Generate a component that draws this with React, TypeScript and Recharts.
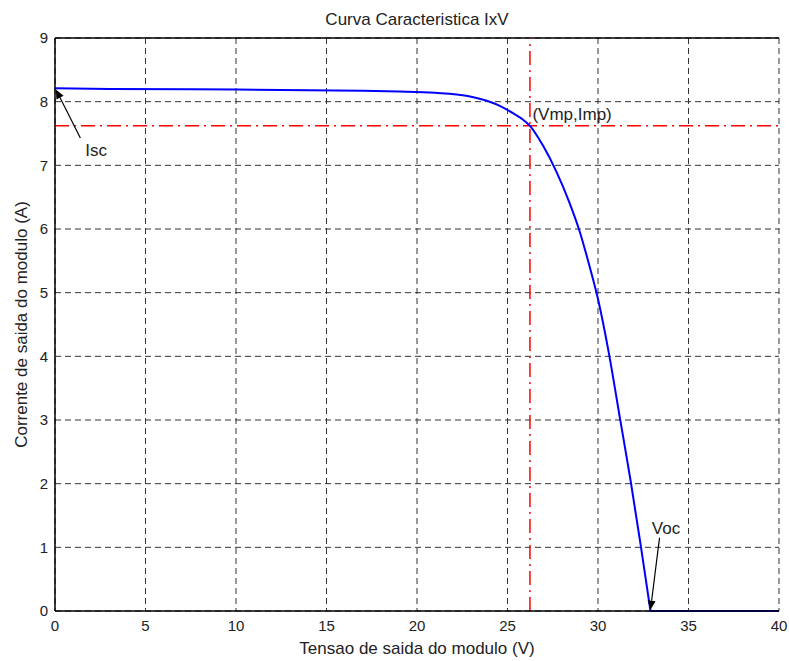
import React from "react";
import {
  LineChart,
  Line,
  XAxis,
  YAxis,
  CartesianGrid,
  ReferenceLine,
  ReferenceDot,
} from "recharts";

// tensao (V) x corrente (A)
const voltage = [0, 3, 10, 17, 19, 21, 22.8, 23.9, 24.6, 25.3, 25.8, 26.24, 27.0, 27.7, 28.4, 29.0, 29.5, 30.0, 30.6, 31.2, 31.8, 32.35, 32.9];
const current = [8.21, 8.2, 8.19, 8.17, 8.16, 8.14, 8.09, 8.01, 7.93, 7.82, 7.73, 7.62, 7.29, 6.9, 6.43, 5.95, 5.45, 4.9, 4.05, 3.05, 2.05, 1.05, 0];
// depois de Voc a corrente fica em zero
const tailVoltage = [32.9, 40];
const tailCurrent = [0, 0];

const xTicks = [0, 5, 10, 15, 20, 25, 30, 35, 40];
const yTicks = [0, 1, 2, 3, 4, 5, 6, 7, 8, 9];

const vmp = 26.24;
const imp = 7.62;

// anotacoes: [x, y]
const iscText = [1.4, 7.24];
const iscArrow = [[1.4, 7.43], [0.05, 8.19]];
const vocText = [32.7, 1.3];
const vocArrow = [[33.4, 1.15], [32.9, 0.02]];
const mppText = [26.1, 7.8];

const data = voltage.map((v, i) => ({ v, i: current[i] }));
const tail = tailVoltage.map((v, i) => ({ v, i: tailCurrent[i] }));

const Arrow = (props: any) => {
  const { x1, y1, x2, y2 } = props;
  const ang = Math.atan2(y2 - y1, x2 - x1);
  const len = 9;
  const w = 4;
  const bx = x2 - len * Math.cos(ang);
  const by = y2 - len * Math.sin(ang);
  const px = -Math.sin(ang) * w;
  const py = Math.cos(ang) * w;
  return (
    <g>
      <line x1={x1} y1={y1} x2={bx} y2={by} stroke="#000" strokeWidth={1.2} />
      <polygon points={`${x2},${y2} ${bx + px},${by + py} ${bx - px},${by - py}`} fill="#000" />
    </g>
  );
};

export default function App() {
  return (
    <div style={{ position: "absolute", left: 0, top: 0, fontFamily: "'Liberation Sans', Arial, sans-serif" }}>
      <LineChart
        width={789}
        height={661}
        margin={{ top: 38, right: 10, bottom: 10, left: 20 }}
      >
        <CartesianGrid stroke="#333" strokeDasharray="6 4" vertical horizontal />
        <XAxis
          dataKey="v"
          type="number"
          domain={[0, 40]}
          ticks={xTicks}
          tickSize={0}
          tickMargin={9}
          height={40}
          allowDuplicatedCategory={false}
          axisLine={{ stroke: "#000", strokeWidth: 1.5 }}
          tick={{ fill: "#222", fontSize: 15 }}
          label={{ value: "Tensao de saida do modulo (V)", position: "insideBottom", offset: -3, fill: "#222", fontSize: 17 }}
        />
        <YAxis
          type="number"
          domain={[0, 9]}
          ticks={yTicks}
          tickSize={0}
          tickMargin={7}
          width={35}
          axisLine={{ stroke: "#000", strokeWidth: 1.5 }}
          tick={{ fill: "#222", fontSize: 15 }}
          label={{ value: "Corrente de saida do modulo (A)", angle: -90, position: "insideLeft", offset: 1, fill: "#222", fontSize: 17, style: { textAnchor: "middle" } }}
        />
        <YAxis
          yAxisId="right"
          orientation="right"
          type="number"
          domain={[0, 9]}
          ticks={yTicks}
          tick={false}
          tickLine={false}
          width={0}
          axisLine={{ stroke: "#000", strokeWidth: 1.5 }}
        />
        <ReferenceLine
          y={9}
          stroke="#000"
          strokeWidth={1.5}
          label={{ value: "Curva Caracteristica IxV", position: "top", offset: 13, fill: "#222", fontSize: 17 }}
        />
        <ReferenceLine x={vmp} stroke="#ff0000" strokeWidth={1.5} strokeDasharray="14 5 2 5" />
        <ReferenceLine y={imp} stroke="#ff0000" strokeWidth={1.5} strokeDasharray="14 5 2 5" />
        <Line
          data={data}
          type="monotone"
          dataKey="i"
          stroke="#0000ff"
          strokeWidth={2}
          dot={false}
          isAnimationActive={false}
        />
        <Line
          data={tail}
          type="linear"
          dataKey="i"
          stroke="#0000ff"
          strokeWidth={2}
          dot={false}
          isAnimationActive={false}
        />
        <ReferenceLine
          segment={[{ x: iscArrow[0][0], y: iscArrow[0][1] }, { x: iscArrow[1][0], y: iscArrow[1][1] }]}
          shape={Arrow}
        />
        <ReferenceLine
          segment={[{ x: vocArrow[0][0], y: vocArrow[0][1] }, { x: vocArrow[1][0], y: vocArrow[1][1] }]}
          shape={Arrow}
        />
        <ReferenceDot x={iscText[0]} y={iscText[1]} r={0} fill="none" stroke="none"
          label={{ value: "Isc", position: "right", offset: 5, fill: "#222", fontSize: 17 }} />
        <ReferenceDot x={vocText[0]} y={vocText[1]} r={0} fill="none" stroke="none"
          label={{ value: "Voc", position: "right", offset: 5, fill: "#222", fontSize: 17 }} />
        <ReferenceDot x={mppText[0]} y={mppText[1]} r={0} fill="none" stroke="none"
          label={{ value: "(Vmp,Imp)", position: "right", offset: 5, fill: "#222", fontSize: 17 }} />
      </LineChart>
    </div>
  );
}
